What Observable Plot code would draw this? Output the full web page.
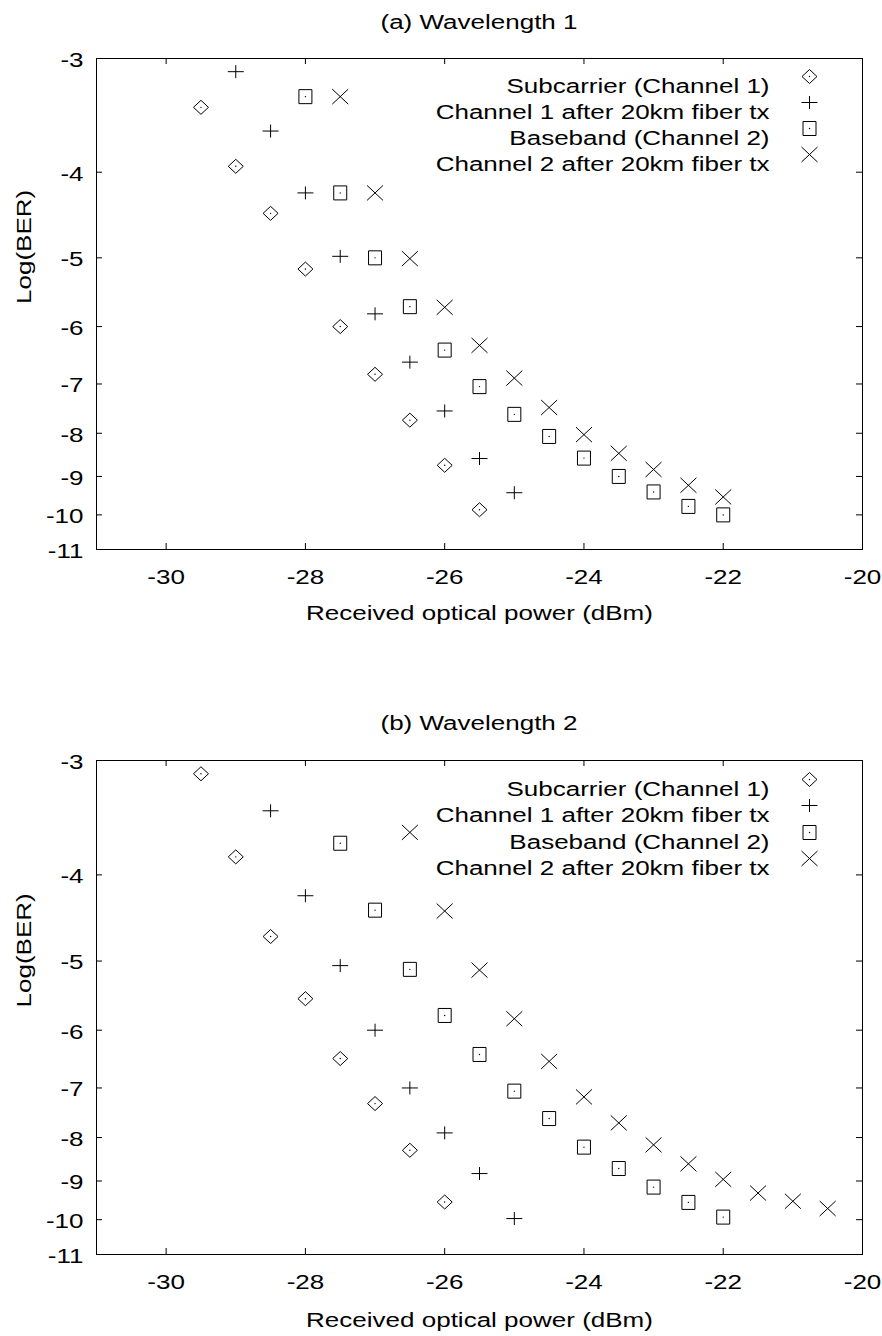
<!DOCTYPE html>
<html>
<head>
<meta charset="utf-8">
<script src="https://cdn.jsdelivr.net/npm/d3@7"></script>
<script src="https://cdn.jsdelivr.net/npm/@observablehq/plot@0.6"></script>
<style>
  html, body { margin: 0; padding: 0; background: #fff; }
  #root { position: relative; width: 882px; height: 1336px; background: #fff; overflow: hidden;
          font-family: "Liberation Sans", Arial, sans-serif; color: #000; }
  .title { position: absolute; left: 96px; width: 766px; text-align: center; font-size: 20px;
           line-height: 20px; white-space: nowrap; transform: scaleX(1.3); transform-origin: 50% 50%; }
  .panel { position: absolute; left: 0; }
  .panel svg { display: block; }
</style>
</head>
<body>
<div id="root"></div>
<script>
// ---------- data (log10 BER vs received optical power, dBm) ----------
const seriesNames = [
  "Subcarrier (Channel 1)",
  "Channel 1 after 20km fiber tx",
  "Baseband (Channel 2)",
  "Channel 2 after 20km fiber tx"
];
const panelTitles = ["(a) Wavelength 1", "(b) Wavelength 2"];
const xLabel = "Received optical power (dBm)";
const yLabel = "Log(BER)";
const xTicks = [-30, -28, -26, -24, -22, -20];
const yTicks = [-3, -4, -5, -6, -7, -8, -9, -10, -11];

// Panel (a) Wavelength 1
const xA_sub  = [-29.5, -29, -28.5, -28, -27.5, -27, -26.5, -26, -25.5];
const yA_sub  = [-3.39, -3.94, -4.45, -5.15, -6.0, -6.82, -7.72, -8.73, -9.86];
const xA_tx1  = [-29, -28.5, -28, -27.5, -27, -26.5, -26, -25.5, -25];
const yA_tx1  = [-3.10, -3.60, -4.22, -4.98, -5.80, -6.60, -7.53, -8.57, -9.41];
const xA_base = [-28, -27.5, -27, -26.5, -26, -25.5, -25, -24.5, -24, -23.5, -23, -22.5, -22];
const yA_base = [-3.30, -4.22, -5.00, -5.69, -6.39, -7.05, -7.60, -8.07, -8.56, -9.00, -9.39, -9.77, -10.0];
const xA_tx2  = [-27.5, -27, -26.5, -26, -25.5, -25, -24.5, -24, -23.5, -23, -22.5, -22];
const yA_tx2  = [-3.30, -4.22, -5.01, -5.70, -6.31, -6.89, -7.46, -8.03, -8.45, -8.83, -9.22, -9.52];

// Panel (b) Wavelength 2
const xB_sub  = [-29.5, -29, -28.5, -28, -27.5, -27, -26.5, -26];
const yB_sub  = [-3.10, -3.82, -4.69, -5.52, -6.47, -7.30, -8.28, -9.53];
const xB_tx1  = [-28.5, -28, -27.5, -27, -26.5, -26, -25.5, -25];
const yB_tx1  = [-3.40, -4.22, -5.06, -6.00, -7.00, -7.90, -8.82, -9.97];
const xB_base = [-27.5, -27, -26.5, -26, -25.5, -25, -24.5, -24, -23.5, -23, -22.5, -22];
const yB_base = [-3.69, -4.38, -5.11, -5.77, -6.40, -7.06, -7.60, -8.21, -8.70, -9.15, -9.54, -9.93];
const xB_tx2  = [-26.5, -26, -25.5, -25, -24.5, -24, -23.5, -23, -22.5, -22, -21.5, -21, -20.5];
const yB_tx2  = [-3.59, -4.39, -5.12, -5.82, -6.52, -7.17, -7.69, -8.16, -8.59, -8.96, -9.30, -9.51, -9.70];

// ---------- styling / scale helpers ----------
const FONT = "'Liberation Sans', Arial, sans-serif";
const STRETCH = 1.3;          // the reference's text is horizontally wide
const BER_OFFSET = 0.4;       // vertical axis: log(-logBER - offset)
const yv = v => -v - BER_OFFSET;

const symDiamond = { draw(c) { c.moveTo(0, -7); c.lineTo(7.5, 0); c.lineTo(0, 7); c.lineTo(-7.5, 0); c.closePath(); } };
const symPlus    = { draw(c) { c.moveTo(-8, 0); c.lineTo(8, 0); c.moveTo(0, -6.5); c.lineTo(0, 6.5); } };
const symSquare  = { draw(c) { c.moveTo(-6.5, -7); c.lineTo(6.5, -7); c.lineTo(6.5, 7); c.lineTo(-6.5, 7); c.closePath(); } };
const symTimes   = { draw(c) { c.moveTo(-8, -7.5); c.lineTo(8, 7.5); c.moveTo(-8, 7.5); c.lineTo(8, -7.5); } };
const SYMS = [symDiamond, symPlus, symSquare, symTimes];
const CENTER_DOT = [true, false, true, false];

function stretchText(svg) {
  svg.querySelectorAll("text").forEach(t => {
    const L = t.getComputedTextLength();
    if (L > 0) {
      t.setAttribute("textLength", (L * STRETCH).toFixed(2));
      t.setAttribute("lengthAdjust", "spacingAndGlyphs");
    }
  });
}

function makePanel(series, cfg) {
  const W = 882, H = cfg.height, mL = 96, mR = 20, mT = cfg.mt, mB = cfg.mb;
  const plotW = W - mL - mR, plotH = H - mT - mB;
  const marks = [];

  // inward ticks on all four sides (mirrored)
  marks.push(Plot.ruleX(xTicks, { x: d => d, insetTop: plotH - 6, stroke: "black" }));
  marks.push(Plot.ruleX(xTicks, { x: d => d, insetBottom: plotH - 6, stroke: "black" }));
  marks.push(Plot.ruleY(yTicks, { y: yv, insetRight: plotW - 6, stroke: "black" }));
  marks.push(Plot.ruleY(yTicks, { y: yv, insetLeft: plotW - 6, stroke: "black" }));

  // tick labels
  marks.push(Plot.axisX({ ticks: xTicks, tickSize: 0, tickPadding: cfg.xpad, tickFormat: d => String(d), label: null }));
  marks.push(Plot.axisY({ ticks: yTicks.map(yv), tickSize: 0, tickPadding: 13, dy: 2,
                          tickFormat: d => String(Math.round(-(d + BER_OFFSET))), label: null }));

  // axis titles
  marks.push(Plot.text([xLabel], { frameAnchor: "bottom", lineAnchor: "top", dy: cfg.xlabDy, text: d => d, fontSize: 20 }));
  marks.push(Plot.text([yLabel], { frameAnchor: "left", rotate: -90, dx: -72.4, text: d => d, fontSize: 20 }));

  // data points
  series.forEach((s, i) => {
    const rows = s.x.map((x, j) => ({ x, ber: s.y[j] }));
    marks.push(Plot.dot(rows, { x: "x", y: d => yv(d.ber), symbol: SYMS[i], fill: "none", stroke: "black", strokeWidth: 1 }));
    if (CENTER_DOT[i]) marks.push(Plot.dot(rows, { x: "x", y: d => yv(d.ber), r: 0.7, fill: "black", stroke: "none" }));
  });

  // legend (inside, top right)
  seriesNames.forEach((name, i) => {
    const dyRow = Math.round(cfg.legY0 + cfg.legStep * i);
    marks.push(Plot.text([name], { frameAnchor: "top-right", text: d => d, textAnchor: "end", dx: -93, dy: dyRow + 2.3, fontSize: 20 }));
    marks.push(Plot.dot([0], { frameAnchor: "top-right", dx: -53, dy: dyRow, symbol: SYMS[i], fill: "none", stroke: "black", strokeWidth: 1 }));
    if (CENTER_DOT[i]) marks.push(Plot.dot([0], { frameAnchor: "top-right", dx: -53, dy: dyRow, r: 0.7, fill: "black", stroke: "none" }));
  });

  marks.push(Plot.frame({ stroke: "black" }));

  return Plot.plot({
    width: W, height: H,
    marginLeft: mL, marginRight: mR, marginTop: mT, marginBottom: mB,
    x: { domain: [-31, -20] },
    y: { type: "log", domain: [yv(-3), yv(-11)], reverse: true },
    style: { fontFamily: FONT, fontSize: "20px", color: "black", background: "white", overflow: "visible" },
    marks
  });
}

const root = document.getElementById("root");
const panels = [
  { series: [{ x: xA_sub, y: yA_sub }, { x: xA_tx1, y: yA_tx1 }, { x: xA_base, y: yA_base }, { x: xA_tx2, y: yA_tx2 }],
    titleTop: 12.4, svgTop: 40, height: 600, mt: 18, mb: 91, xpad: 20, xlabDy: 56, legY0: 18.4, legStep: 25.8 },
  { series: [{ x: xB_sub, y: yB_sub }, { x: xB_tx1, y: yB_tx1 }, { x: xB_base, y: yB_base }, { x: xB_tx2, y: yB_tx2 }],
    titleTop: 712.5, svgTop: 740, height: 596, mt: 20, mb: 82, xpad: 20, xlabDy: 58, legY0: 18.8, legStep: 26.5 }
];

panels.forEach((p, k) => {
  const t = document.createElement("div");
  t.className = "title";
  t.style.top = p.titleTop + "px";
  t.textContent = panelTitles[k];
  root.appendChild(t);

  const holder = document.createElement("div");
  holder.className = "panel";
  holder.style.top = p.svgTop + "px";
  root.appendChild(holder);
  const svg = makePanel(p.series, p);
  holder.appendChild(svg);
  stretchText(svg);
});
</script>
</body>
</html>
